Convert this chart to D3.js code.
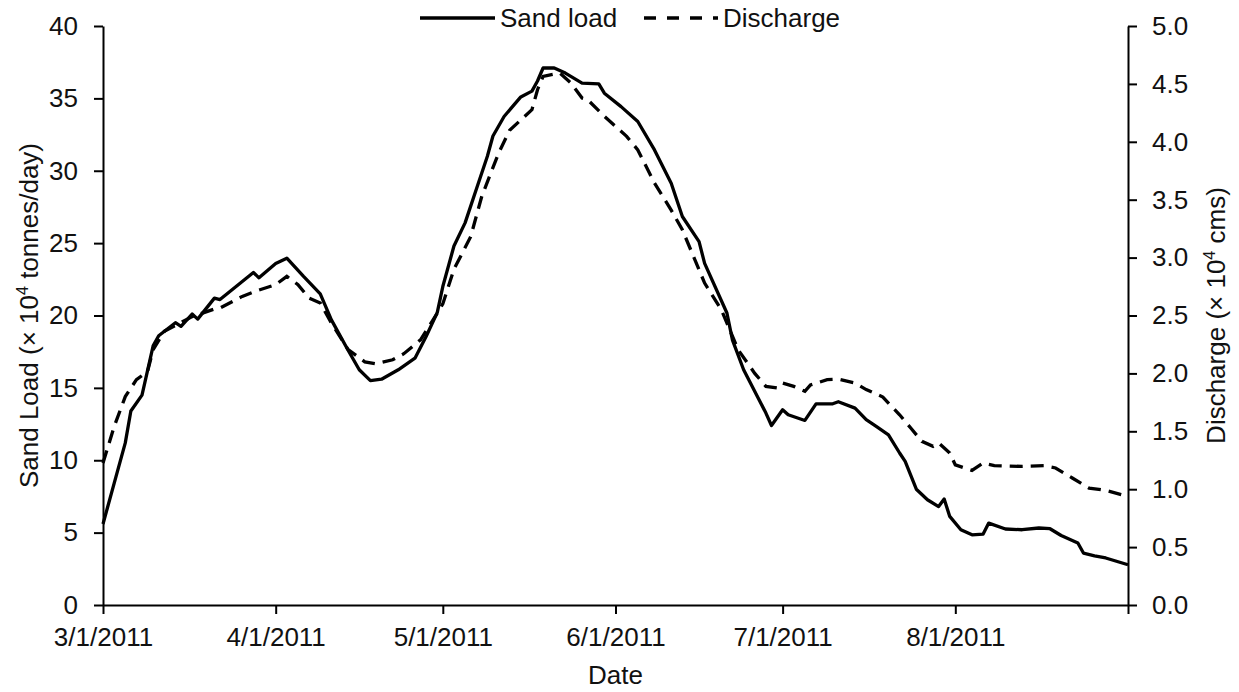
<!DOCTYPE html>
<html>
<head>
<meta charset="utf-8">
<script src="https://cdn.jsdelivr.net/npm/d3@7"></script>
<style>
  body { margin: 0; background: #fff; }
  text { font-family: "Liberation Sans", Arial, sans-serif; fill: #111; }
</style>
</head>
<body>
<script>
// sand load, x 10^4 tonnes/day
const sandDates = ["3/1/2011", "3/3/2011", "3/5/2011", "3/6/2011", "3/8/2011", "3/10/2011", "3/11/2011",
  "3/14/2011", "3/15/2011", "3/17/2011", "3/18/2011", "3/21/2011", "3/22/2011", "3/26/2011", "3/28/2011",
  "3/29/2011", "4/1/2011", "4/3/2011", "4/6/2011", "4/9/2011", "4/11/2011", "4/14/2011", "4/16/2011",
  "4/18/2011", "4/20/2011", "4/23/2011", "4/26/2011", "4/28/2011", "4/30/2011", "5/1/2011", "5/3/2011",
  "5/5/2011", "5/7/2011", "5/9/2011", "5/10/2011", "5/12/2011", "5/15/2011", "5/17/2011", "5/18/2011",
  "5/19/2011", "5/21/2011", "5/23/2011", "5/26/2011", "5/29/2011", "5/30/2011", "6/2/2011", "6/5/2011",
  "6/8/2011", "6/11/2011", "6/13/2011", "6/16/2011", "6/17/2011", "6/21/2011", "6/22/2011", "6/24/2011",
  "6/28/2011", "6/29/2011", "7/1/2011", "7/2/2011", "7/5/2011", "7/7/2011", "7/10/2011", "7/11/2011",
  "7/14/2011", "7/16/2011", "7/18/2011", "7/20/2011", "7/22/2011", "7/23/2011", "7/25/2011", "7/27/2011",
  "7/29/2011", "7/30/2011", "7/31/2011", "8/2/2011", "8/4/2011", "8/6/2011", "8/7/2011", "8/10/2011",
  "8/13/2011", "8/16/2011", "8/18/2011", "8/20/2011", "8/23/2011", "8/24/2011", "8/26/2011", "8/28/2011",
  "9/1/2011"];
const sandLoad = [5.6, 8.4, 11.2, 13.4, 14.5, 17.9, 18.6,
  19.5, 19.25, 20.1, 19.75, 21.2, 21.1, 22.35, 22.97,
  22.6, 23.6, 23.96, 22.7, 21.5, 19.7, 17.6, 16.25,
  15.5, 15.6, 16.25, 17.05, 18.55, 20.2, 22.0, 24.8,
  26.4, 28.7, 31.0, 32.4, 33.75, 35.1, 35.5, 36.2,
  37.1, 37.1, 36.75, 36.05, 36.0, 35.36, 34.43, 33.4,
  31.44, 29.14, 26.84, 25.1, 23.6, 20.17, 18.3, 16.25,
  13.26, 12.4, 13.49, 13.14, 12.75, 13.9, 13.9, 14.04,
  13.6, 12.8, 12.29, 11.76, 10.5, 9.92, 8.0, 7.27,
  6.8, 7.32, 6.12, 5.2, 4.85, 4.9, 5.66, 5.25,
  5.2, 5.32, 5.27, 4.8, 4.28, 3.59, 3.4, 3.25,
  2.78];

// discharge, x 10^4 cms
const dischargeDates = ["3/1/2011", "3/3/2011", "3/5/2011", "3/7/2011", "3/9/2011", "3/10/2011", "3/12/2011",
  "3/17/2011", "3/21/2011", "3/22/2011", "3/26/2011", "3/29/2011", "4/1/2011", "4/3/2011", "4/5/2011",
  "4/7/2011", "4/9/2011", "4/11/2011", "4/14/2011", "4/17/2011", "4/19/2011", "4/22/2011", "4/24/2011",
  "4/27/2011", "4/30/2011", "5/1/2011", "5/3/2011", "5/6/2011", "5/8/2011", "5/11/2011", "5/13/2011",
  "5/17/2011", "5/18/2011", "5/19/2011", "5/22/2011", "5/24/2011", "5/26/2011", "5/27/2011", "5/30/2011",
  "6/3/2011", "6/5/2011", "6/8/2011", "6/11/2011", "6/13/2011", "6/15/2011", "6/17/2011", "6/20/2011",
  "6/23/2011", "6/26/2011", "6/28/2011", "6/30/2011", "7/1/2011", "7/3/2011", "7/5/2011", "7/6/2011",
  "7/9/2011", "7/11/2011", "7/14/2011", "7/16/2011", "7/19/2011", "7/20/2011", "7/22/2011", "7/24/2011",
  "7/26/2011", "7/28/2011", "7/29/2011", "7/31/2011", "8/1/2011", "8/4/2011", "8/6/2011", "8/8/2011",
  "8/13/2011", "8/17/2011", "8/19/2011", "8/22/2011", "8/25/2011", "8/28/2011", "9/1/2011"];
const discharge = [1.226, 1.54, 1.8, 1.946, 2.017, 2.205, 2.363,
  2.49, 2.556, 2.565, 2.665, 2.72, 2.766, 2.838, 2.766,
  2.65, 2.608, 2.435, 2.205, 2.1, 2.083, 2.118, 2.17,
  2.29, 2.52, 2.6, 2.9, 3.18, 3.53, 3.9, 4.1,
  4.277, 4.45, 4.565, 4.594, 4.508, 4.378, 4.364, 4.22,
  4.047, 3.93, 3.644, 3.41, 3.24, 3.01, 2.78, 2.55,
  2.205, 2.0, 1.888, 1.874, 1.917, 1.888, 1.845, 1.9,
  1.946, 1.95, 1.917, 1.86, 1.796, 1.744, 1.643, 1.528,
  1.413, 1.37, 1.4, 1.313, 1.21, 1.162, 1.226, 1.203,
  1.197, 1.203, 1.183, 1.097, 1.01, 0.99, 0.938];

const dateTicks = ["3/1/2011", "4/1/2011", "5/1/2011", "6/1/2011", "7/1/2011", "8/1/2011", "9/1/2011"];
const sandTicks = [0, 5, 10, 15, 20, 25, 30, 35, 40];
const dischargeTicks = [0, 0.5, 1, 1.5, 2, 2.5, 3, 3.5, 4, 4.5, 5];

const W = 1239, H = 692;
const m = { left: 103, right: 111, top: 26, bottom: 87 };
const FONT = 26;

const parse = d3.timeParse("%m/%d/%Y");
const fmt = d3.timeFormat("%-m/%-d/%Y");

const svg = d3.select("body").append("svg").attr("width", W).attr("height", H);

const x = d3.scaleTime()
  .domain([parse(dateTicks[0]), parse(dateTicks[dateTicks.length - 1])])
  .range([m.left, W - m.right]);
const yL = d3.scaleLinear().domain([0, 40]).range([H - m.bottom, m.top]);
const yR = d3.scaleLinear().domain([0, 5]).range([H - m.bottom, m.top]);

const styleAxis = g => {
  g.select(".domain").attr("stroke", "#000").attr("stroke-width", 2);
  g.selectAll(".tick line").attr("stroke", "#000").attr("stroke-width", 2);
  g.selectAll(".tick text").attr("font-size", FONT).attr("font-family", "Liberation Sans, Arial, sans-serif").attr("fill", "#111");
};

const lastTick = dateTicks[dateTicks.length - 1];
svg.append("g")
  .attr("transform", `translate(0,${H - m.bottom})`)
  .call(d3.axisBottom(x).tickValues(dateTicks.map(parse))
    .tickFormat(d => fmt(d) === lastTick ? "" : fmt(d))
    .tickSize(9).tickSizeOuter(0).tickPadding(14))
  .call(styleAxis);

svg.append("g")
  .attr("transform", `translate(${m.left},0)`)
  .call(d3.axisLeft(yL).tickValues(sandTicks).tickSize(9).tickSizeOuter(0).tickPadding(16))
  .call(styleAxis);

svg.append("g")
  .attr("transform", `translate(${W - m.right},0)`)
  .call(d3.axisRight(yR).tickValues(dischargeTicks).tickFormat(d3.format(".1f"))
    .tickSize(9).tickSizeOuter(0).tickPadding(15))
  .call(styleAxis);

// lines
const sandPts = sandDates.map((d, i) => [parse(d), sandLoad[i]]);
const qPts = dischargeDates.map((d, i) => [parse(d), discharge[i]]);

svg.append("path")
  .datum(qPts)
  .attr("fill", "none").attr("stroke", "#000").attr("stroke-width", 3.3)
  .attr("stroke-dasharray", "13,8")
  .attr("d", d3.line().x(d => x(d[0])).y(d => yR(d[1])));

svg.append("path")
  .datum(sandPts)
  .attr("fill", "none").attr("stroke", "#000").attr("stroke-width", 3.3)
  .attr("stroke-linejoin", "round")
  .attr("d", d3.line().x(d => x(d[0])).y(d => yL(d[1])));

// axis titles
svg.append("text")
  .attr("x", (m.left + W - m.right) / 2).attr("y", 684)
  .attr("text-anchor", "middle").attr("font-size", FONT)
  .text("Date");

const leftTitle = svg.append("text")
  .attr("transform", `translate(38,${(m.top + H - m.bottom) / 2}) rotate(-90)`)
  .attr("text-anchor", "middle").attr("font-size", FONT);
leftTitle.append("tspan").text("Sand Load (× 10");
leftTitle.append("tspan").attr("font-size", FONT * 0.62).attr("dy", -10).text("4");
leftTitle.append("tspan").attr("dy", 10).text(" tonnes/day)");

const rightTitle = svg.append("text")
  .attr("transform", `translate(1225,${(m.top + H - m.bottom) / 2}) rotate(-90)`)
  .attr("text-anchor", "middle").attr("font-size", FONT);
rightTitle.append("tspan").text("Discharge (× 10");
rightTitle.append("tspan").attr("font-size", FONT * 0.62).attr("dy", -10).text("4");
rightTitle.append("tspan").attr("dy", 10).text(" cms)");

// legend
const legend = [
  { label: "Sand load", x0: 420, x1: 495, dash: null },
  { label: "Discharge", x0: 644, x1: 718, dash: "12,11" }
];
const lg = svg.append("g");
legend.forEach(l => {
  lg.append("line")
    .attr("x1", l.x0).attr("x2", l.x1).attr("y1", 18).attr("y2", 18)
    .attr("stroke", "#000").attr("stroke-width", 3.3)
    .attr("stroke-dasharray", l.dash);
  lg.append("text")
    .attr("x", l.x1 + 5).attr("y", 27).attr("font-size", FONT)
    .text(l.label);
});
</script>
</body>
</html>
